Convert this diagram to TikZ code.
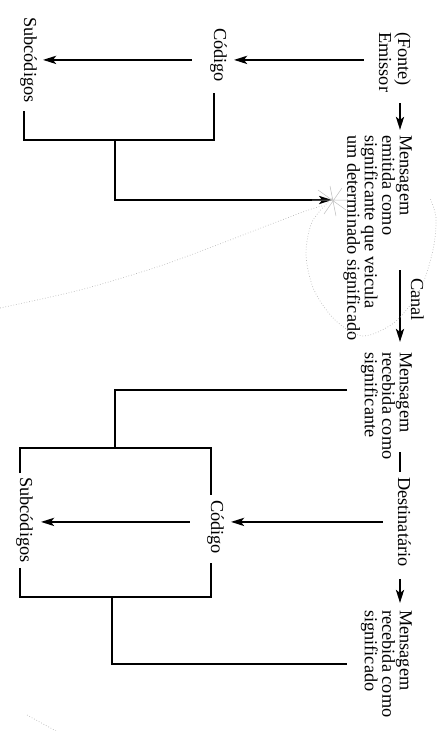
\documentclass[tikz,border=0pt]{standalone}
\usepackage{fontspec}
\setmainfont{Liberation Serif}
\usetikzlibrary{arrows.meta,calc}
\begin{document}
\begin{tikzpicture}[x=1pt,y=-1pt,
  txt/.style={rotate=-90, inner sep=0pt, font=\fontsize{18.3}{17.5}\selectfont},
  blk/.style={txt, align=left},
  ln/.style={line width=2.5pt},
  arr/.style={ln, -{Stealth[length=13pt,width=8pt,inset=3pt]}},
  pencil/.style={gray!55, dotted, line width=0.7pt}]
\useasboundingbox (0,0) rectangle (438,731);
% text blocks
\node[blk, anchor=north west, font=\fontsize{18.3}{19}\selectfont] (emissor) at (411,32) {(Fonte)\\Emissor};
\node[txt, anchor=base west] (codigo1) at (214,28) {Código};
\node[txt, anchor=base west] (sub1) at (24,17) {Subcódigos};
\node[blk, anchor=north west] (msg1) at (412,135) {Mensagem\\emitida como\\significante que veicula\\um determinado significado};
\node[txt, anchor=base west] (canal) at (411,278) {Canal};
\node[blk, anchor=north west] (msg2) at (412,352) {Mensagem\\recebida como\\significante};
\node[txt, anchor=base west] (dest) at (398,477) {Destinatário};
\node[txt, anchor=base west] (codigo2) at (211,500) {Código};
\node[txt, anchor=base west] (sub2) at (20,477) {Subcódigos};
\node[blk, anchor=north west] (msg3) at (412,610) {Mensagem\\recebida como\\significado};
% junction points
\coordinate (j1) at (115,140);
\coordinate (k1) at (115,200);
\coordinate (j2) at (115,448);
\coordinate (j3) at (112,597);
% top part
\draw[arr, shorten <=15pt, shorten >=7pt] (emissor.south |- sub1.north) -- (codigo1.north |- sub1.north);
\draw[arr, shorten <=18pt, shorten >=6pt] (codigo1.south |- sub1.north) -- (sub1.north);
\draw[ln, shorten <=11pt, shorten >=8pt] (codigo1.base east) -- (codigo1.base east |- j1) -- (sub1.base east |- j1) -- (sub1.base east);
\draw[arr, shorten >=11pt] (j1) -- (k1) -- (k1 -| msg1.south);
\draw[arr] ($(emissor.north east)+(-11,11)$) -- ($(msg1.north west)+(-12,-5)$);
% channel
\draw[arr] ($(msg1.north west)+(-12,135)$) -- ($(msg2.north west)+(-12,-10)$);
% bottom part
\draw[ln] ($(msg2.north west)+(-65,38)$) -| (j2);
\draw[ln, shorten <=4pt, shorten >=5pt] (sub2.base west) -- (sub2.base west |- j2) -- (codigo2.base west |- j2) -- (codigo2.base west);
\draw[ln] ($(msg2.north west)+(-12,100)$) -- ($(dest.base west)+(2,-5)$);
\draw[arr, shorten <=15pt, shorten >=7pt] (dest.south) -- (dest.south -| codigo2.north);
\draw[arr, shorten <=17pt, shorten >=8pt] (dest.south -| codigo2.south) -- (dest.south -| sub2.north);
\draw[ln, shorten <=5pt, shorten >=9pt] (sub2.base east) -- (sub2.base east |- j3) -- (codigo2.base east |- j3) -- (codigo2.base east);
\draw[ln, shorten >=14pt] (j3) |- (msg3.south);
\draw[arr] ($(dest.base east)+(2,12)$) -- ($(msg3.north west)+(-12,-7)$);
% pencil annotations
\draw[pencil] plot[smooth] coordinates {(332,198) (312,222) (306,255) (314,290) (335,320) (363,336) (395,322) (420,290) (433,250) (436,218) (430,198)};
\draw[pencil] plot[smooth] coordinates {(322,206) (300,213) (217,245) (157,267) (80,290) (0,308)};
\draw[gray!50, line width=0.5pt] (318,190) -- (346,210) (324,214) -- (342,188) (312,200) -- (348,200) (330,186) -- (336,216);
\draw[pencil] (27,715) -- (56,731);
\end{tikzpicture}
\end{document}
